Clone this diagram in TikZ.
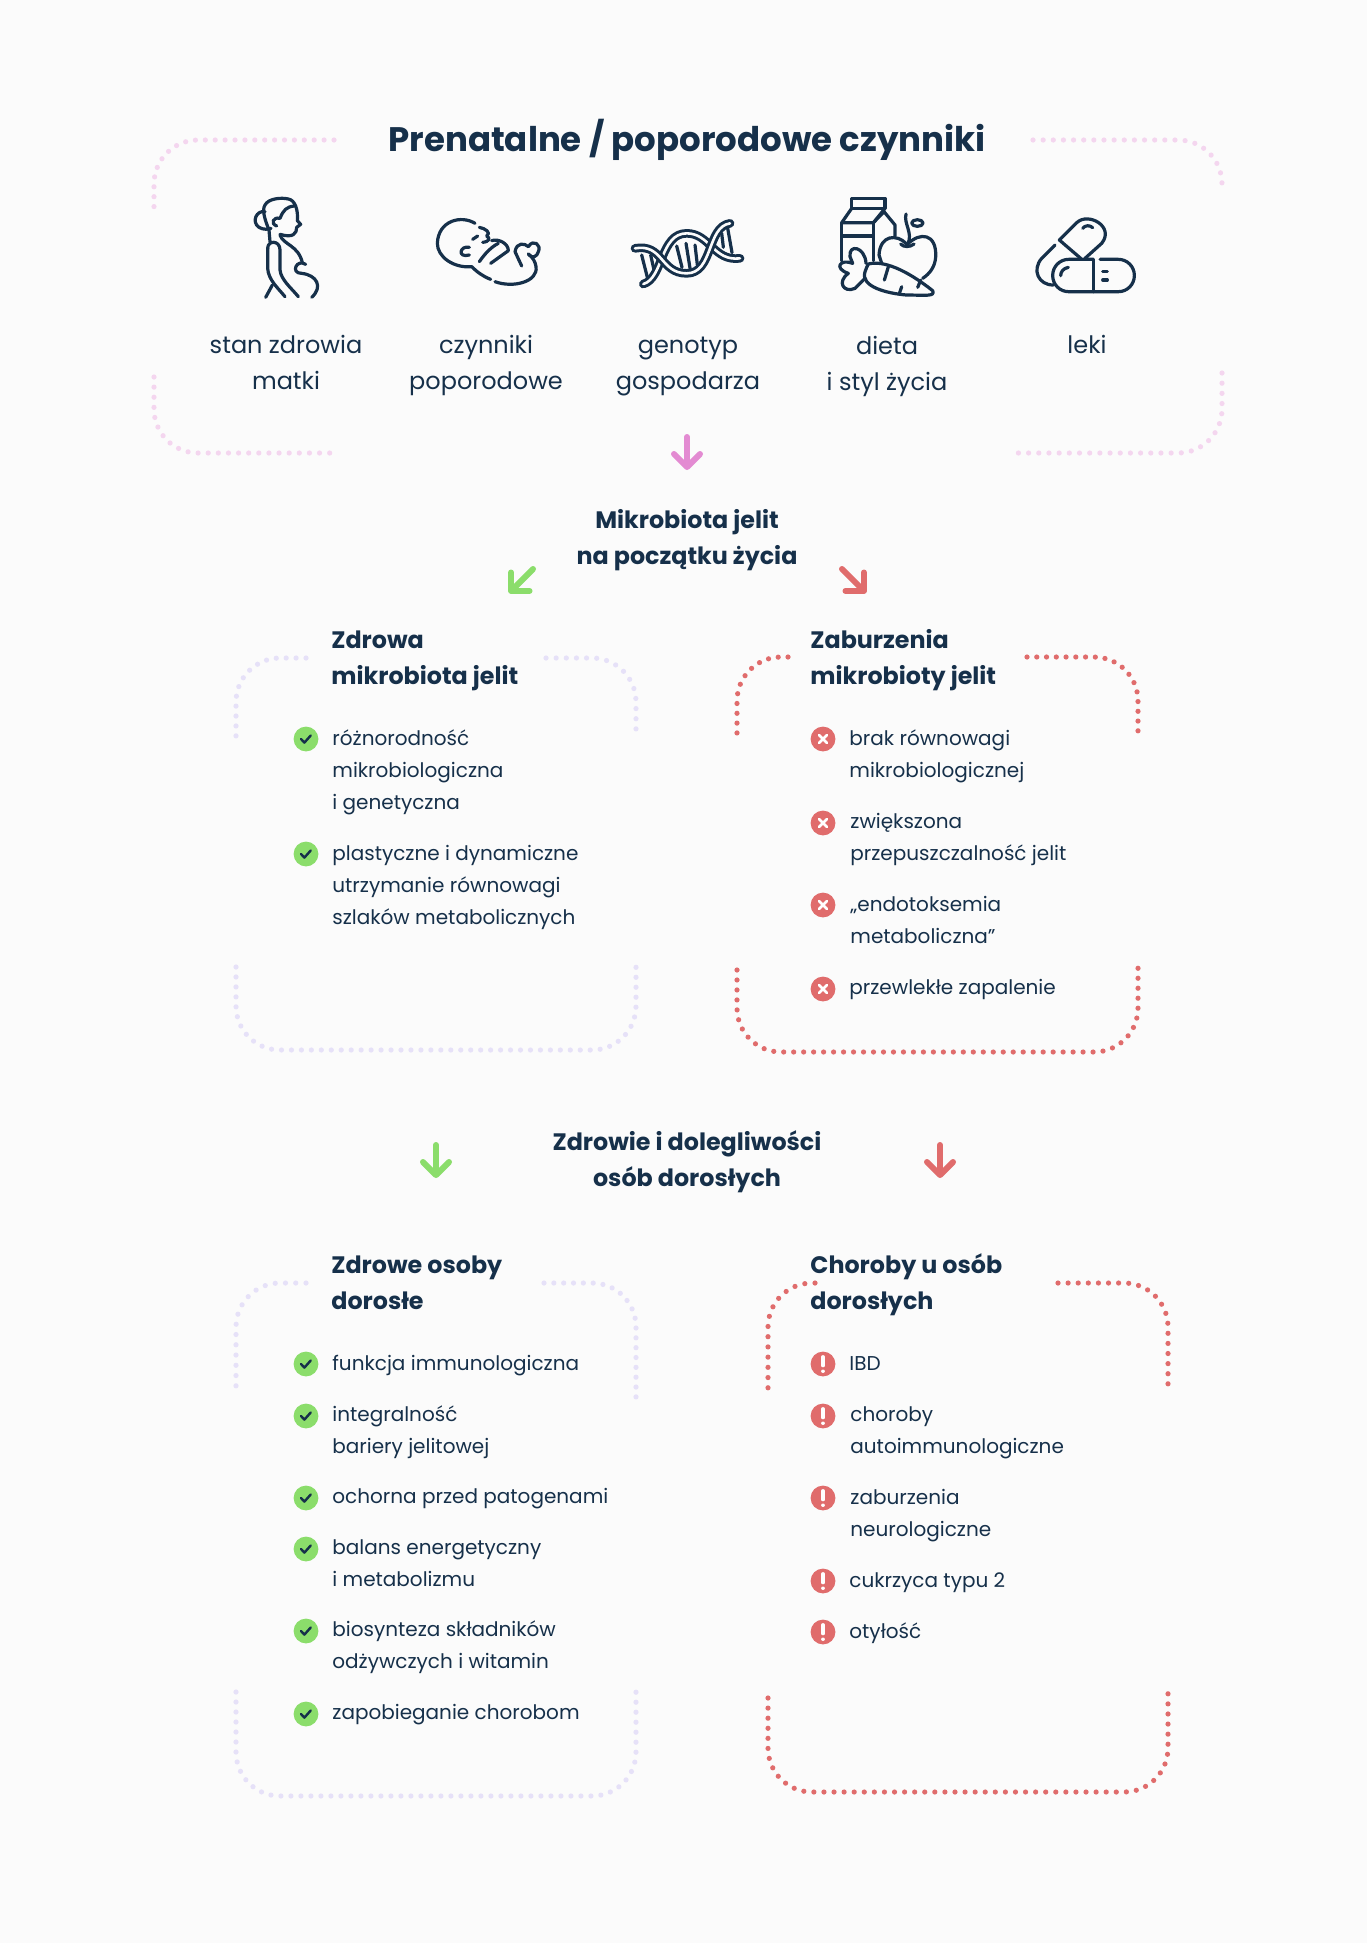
\documentclass[tikz,border=0pt]{standalone}
\usepackage{fontspec}
\setmainfont{Poppins}
\newfontfamily\popbold{Poppins Bold}
\usetikzlibrary{arrows.meta}
\definecolor{paper}{HTML}{FBFBFB}
\definecolor{ink}{HTML}{16304A}
\definecolor{softpink}{HTML}{F4D6EF}
\definecolor{softlilac}{HTML}{E6E1F8}
\definecolor{okgreen}{HTML}{8BDD6B}
\definecolor{badred}{HTML}{E06C6C}
\definecolor{arrowpink}{HTML}{E38BD2}
\tikzset{
	dotted line/.style={line width=2.6pt,line cap=round,rounded corners=22pt,dash pattern=on 0pt off #1pt},
	pinkdots/.style={dotted line=#1,draw=softpink},
	lilacdots/.style={dotted line=#1,draw=softlilac},
	reddots/.style={dotted line=#1,draw=badred},
	mainhead/.style={inner sep=0,text=ink,align=center,font=\fontsize{17}{18}\popbold},
	midhead/.style={inner sep=0,text=ink,align=center,font=\fontsize{11.9}{18}\popbold},
	boxhead/.style={inner sep=0,text=ink,align=left,anchor=base west,font=\fontsize{11.9}{18}\popbold},
	iconlabel/.style={inner sep=0,text=ink,align=center,anchor=base,font=\fontsize{12}{18}\selectfont},
	itemtext/.style={inner sep=0,text=ink,align=left,anchor=base west,font=\fontsize{10}{16}\selectfont},
	okdot/.style={circle,inner sep=0,minimum size=12.4pt,fill=okgreen,
		path picture={\draw[ink,line width=1.2pt,line cap=round,line join=round] ([shift={(-2.5pt,0pt)}]path picture bounding box.center) -- ++(1.7pt,-1.8pt) -- ++(3.2pt,3.6pt);}},
	baddot/.style={circle,inner sep=0,minimum size=12.4pt,fill=badred,
		path picture={\draw[white,line width=1.3pt,line cap=round] ([shift={(-2pt,-2pt)}]path picture bounding box.center) -- ++(4pt,4pt) ([shift={(-2pt,2pt)}]path picture bounding box.center) -- ++(4pt,-4pt);}},
	warndot/.style={circle,inner sep=0,minimum size=12.4pt,fill=badred,
		path picture={\draw[white,line width=1.7pt,line cap=round] ([shift={(0pt,3.6pt)}]path picture bounding box.center) -- ++(0,-4.4pt) ([shift={(0pt,-3.6pt)}]path picture bounding box.center) -- ++(0,-0.01pt);}},
	bigarrow/.style={line width=3pt,line cap=round,-{Straight Barb[round,length=6.5pt,width=13pt]}},
	icon/.style={draw=ink,line width=1.6pt,line cap=round,line join=round},
}
\begin{document}
\begin{tikzpicture}[x=.5pt,y=-.5pt]
	\fill[paper] (0,0) rectangle (1367,1943);
	\useasboundingbox (0,0) rectangle (1367,1943);

	%top frame
	\draw[pinkdots=4.95] (334,140) -| (154,207);
	\draw[pinkdots=5.06] (154,377) |- (330,453);
	\draw[pinkdots=5.07] (1033,140) -| (1222,183);
	\draw[pinkdots=5.09] (1222,373) |- (1018,453);

	\node[mainhead,anchor=base] (title) at (687,151) {Prenatalne / poporodowe czynniki};

	%icon labels
	\node[iconlabel] (lab1) at (286,389) {stan zdrowia\\matki};
	\node[iconlabel] (lab2) at (486,389) {czynniki\\poporodowe};
	\node[iconlabel] (lab3) at (688,389) {genotyp\\gospodarza};
	\node[iconlabel] (lab4) at (887,390) {dieta\\i styl życia};
	\node[iconlabel] (lab5) at (1087,353) {leki};

	%mother
	\begin{scope}[shift={(245,190)},x=.1667pt,y=-.1667pt]
		\draw[icon] (72,120) .. controls (60,90) and (50,60) .. (60,45) .. controls (70,25) and (110,22) .. (130,27) .. controls (150,30) and (160,60) .. (157,92) -- (167,103) -- (155,112) .. controls (155,130) and (145,145) .. (105,133);
		\draw[icon] (60,65) .. controls (35,60) and (18,95) .. (42,112) .. controls (55,120) and (70,118) .. (78,115);
		\draw[icon] (148,48) .. controls (125,50) and (115,60) .. (105,85) .. controls (85,80) and (75,100) .. (95,108);
		\draw[icon] (72,120) -- (75,155);
		\draw[icon] (68,175) .. controls (68,150) and (105,150) .. (105,180) -- (105,240) .. controls (108,270) and (140,295) .. (160,320);
		\draw[icon] (68,175) -- (68,235) .. controls (70,270) and (100,295) .. (120,320);
		\draw[icon] (82,285) -- (62,322);
		\draw[icon] (105,135) .. controls (115,165) and (160,165) .. (172,218);
		\draw[icon] (182,223) .. controls (155,205) and (135,250) .. (170,250) .. controls (215,255) and (235,290) .. (200,322);
	\end{scope}

	%baby
	\begin{scope}[shift={(430,210)},x=.1667pt,y=-.1667pt]
		\draw[icon] (135,40) .. controls (95,15) and (25,30) .. (22,100) .. controls (22,140) and (70,175) .. (125,170) .. controls (140,185) and (160,200) .. (182,208);
		\draw[icon] (195,215) .. controls (250,235) and (325,215) .. (318,170) .. controls (316,155) and (308,142) .. (295,132);
		\draw[icon] (148,52) .. controls (165,55) and (185,68) .. (170,78) .. controls (182,85) and (178,95) .. (158,97);
		\draw[icon] (185,92) .. controls (205,85) and (235,100) .. (235,122) -- (182,160);
		\draw[icon] (205,100) .. controls (185,110) and (165,130) .. (148,155);
		\draw[icon] (128,88) -- (143,78);
		\draw[icon] (118,112) .. controls (90,105) and (80,145) .. (118,135);
		\draw[icon] (275,168) -- (255,125) .. controls (260,95) and (285,100) .. (295,110) .. controls (310,85) and (335,105) .. (325,125) .. controls (322,140) and (305,148) .. (295,132);
	\end{scope}

	%dna
	\begin{scope}[shift={(610,190)},x=.1667pt,y=-.1667pt]
		\draw[icon] (200,168) -- (216,232) (228,160) -- (240,235) (255,165) -- (262,225);
		\draw[icon] (95,195) -- (112,262) (122,195) -- (132,240);
		\draw[icon] (335,130) -- (340,172) (353,115) -- (366,188);
		\draw[icon,line width=1.5pt,double=paper,double distance=1.3pt] (100,282) .. controls (160,265) and (150,130) .. (230,130) .. controls (300,130) and (310,215) .. (390,205);
		\draw[icon,line width=1.5pt,double=paper,double distance=1.3pt] (75,175) .. controls (160,160) and (150,250) .. (230,250) .. controls (310,250) and (290,110) .. (360,100);
	\end{scope}

	%food
	\begin{scope}[shift={(740,100)},x=.1667pt,y=-.1667pt]
		\draw[icon] (335,295) rectangle (435,325);
		\draw[icon] (335,325) -- (305,368) -- (400,368) -- (435,325);
		\draw[icon] (400,368) -- (432,335) -- (465,375) -- (465,408);
		\draw[icon] (305,368) -- (305,482);
		\draw[icon] (305,408) -- (400,408);
		\draw[icon] (400,368) -- (400,482);
		\draw[icon] (500,432) .. controls (470,400) and (420,405) .. (417,465) -- (425,490);
		\draw[icon] (503,432) .. controls (540,395) and (590,400) .. (587,470) .. controls (585,500) and (570,520) .. (548,535);
		\draw[icon] (498,342) .. controls (490,370) and (520,400) .. (503,432);
		\draw[icon] (532,369) ellipse (17 and 10);
		\draw[icon] (482,432) .. controls (490,442) and (510,442) .. (522,432);
		\draw[icon] (385,492) .. controls (430,480) and (500,510) .. (578,572) .. controls (585,590) and (560,585) .. (500,585) .. controls (440,580) and (360,560) .. (375,515) .. controls (378,505) and (382,498) .. (385,492);
		\draw[icon] (445,500) -- (433,540) (485,560) -- (478,580) (542,540) -- (533,562);
		\draw[icon] (378,490) .. controls (375,440) and (325,430) .. (330,470) -- (338,490) .. controls (300,475) and (280,505) .. (325,520) .. controls (290,545) and (310,580) .. (345,565) -- (375,535);
	\end{scope}

	%pills
	\begin{scope}[shift={(1030,210)},x=.1667pt,y=-.1667pt]
		\draw[icon] (152,145) -- (88,90) -- (140,38) .. controls (175,5) and (255,50) .. (215,100) -- (165,145);
		\draw[icon] (158,55) .. controls (165,45) and (180,45) .. (188,53);
		\draw[icon] (75,105) -- (35,145) .. controls (5,180) and (25,225) .. (70,225);
		\draw[icon,rounded corners=8pt] (190,148) -- (68,148) -- (68,245) -- (313,245) -- (313,148) -- (210,148);
		\draw[icon] (190,148) -- (190,245);
		\draw[icon] (92,197) .. controls (92,185) and (100,175) .. (115,172);
		\draw[icon] (218,185) -- (232,185) (218,210) -- (232,210);
	\end{scope}

	%arrows
	\coordinate (pinktop) at (687,437);
	\coordinate (pinkend) at (687,470);
	\draw[bigarrow,arrowpink] (pinktop) -- (pinkend);
	\coordinate (greentop) at (533,569);
	\coordinate (greenend) at (509,593);
	\draw[bigarrow,okgreen] (greentop) -- (greenend);
	\coordinate (redtop) at (842,569);
	\coordinate (redend) at (866,593);
	\draw[bigarrow,badred] (redtop) -- (redend);
	\coordinate (lowgreentop) at (436,1145);
	\coordinate (lowgreenend) at (436,1178);
	\draw[bigarrow,okgreen] (lowgreentop) -- (lowgreenend);
	\coordinate (lowredtop) at (940,1145);
	\coordinate (lowredend) at (940,1178);
	\draw[bigarrow,badred] (lowredtop) -- (lowredend);

	%middle heads
	\node[midhead,anchor=base] (micro) at (687,564) {Mikrobiota jelit\\na początku życia};
	\node[midhead,anchor=base] (health) at (687,1186) {Zdrowie i dolegliwości\\osób dorosłych};

	%upper left box
	\draw[lilacdots=4.96] (306,658) -| (236,736);
	\draw[lilacdots=5.07] (546,658) -| (636,739);
	\draw[lilacdots=4.98] (236,967) |- (636,1050) -- (636,967);
	\node[boxhead] (healthyhead) at (331,684) {Zdrowa\\mikrobiota jelit};
	\node[okdot] (a1) at (306,739) {};
	\node[itemtext] (t1) at (332,809) {różnorodność\\mikrobiologiczna\\i genetyczna};
	\node[okdot] (a2) at (306,854) {};
	\node[itemtext] (t2) at (332,924) {plastyczne i dynamiczne\\utrzymanie równowagi\\szlaków metabolicznych};

	%upper right box
	\draw[reddots=4.91] (788,657) -| (737,733);
	\draw[reddots=4.88] (1027,657) -| (1138,731);
	\draw[reddots=4.99] (737,970) |- (1138,1052) -- (1138,968);
	\node[boxhead] (brokenhead) at (810,684) {Zaburzenia\\mikrobioty jelit};
	\node[baddot] (b1) at (823,739) {};
	\node[itemtext] (u1) at (849,777) {brak równowagi\\mikrobiologicznej};
	\node[baddot] (b2) at (823,823) {};
	\node[itemtext] (u2) at (850,860) {zwiększona\\przepuszczalność jelit};
	\node[baddot] (b3) at (823,905) {};
	\node[itemtext] (u3) at (850,943) {„endotoksemia\\metaboliczna”};
	\node[baddot] (b4) at (823,989) {};
	\node[itemtext] (u4) at (849,994) {przewlekłe zapalenie};

	%lower left box
	\draw[lilacdots=5.13] (306,1283) -| (236,1386);
	\draw[lilacdots=4.92] (544,1283) -| (636,1397);
	\draw[lilacdots=5] (236,1692) |- (636,1796) -- (636,1692);
	\node[boxhead] (adultshead) at (331,1309) {Zdrowe osoby\\dorosłe};
	\node[okdot] (c1) at (306,1364) {};
	\node[itemtext] (v1) at (332,1370) {funkcja immunologiczna};
	\node[okdot] (c2) at (306,1416) {};
	\node[itemtext] (v2) at (332,1453) {integralność\\bariery jelitowej};
	\node[okdot] (c3) at (306,1498) {};
	\node[itemtext] (v3) at (332,1503) {ochorna przed patogenami};
	\node[okdot] (c4) at (306,1549) {};
	\node[itemtext] (v4) at (332,1586) {balans energetyczny\\i metabolizmu};
	\node[okdot] (c5) at (306,1631) {};
	\node[itemtext] (v5) at (332,1668) {biosynteza składników\\odżywczych i witamin};
	\node[okdot] (c6) at (306,1714) {};
	\node[itemtext] (v6) at (332,1719) {zapobieganie chorobom};

	%lower right box
	\draw[reddots=5.11] (815,1283) -| (768,1388);
	\draw[reddots=5.05] (1058,1283) -| (1168,1384);
	\draw[reddots=5.04] (768,1698) |- (1168,1792) -- (1168,1693);
	\node[boxhead] (sickhead) at (810,1309) {Choroby u osób\\dorosłych};
	\node[warndot] (d1) at (823,1364) {};
	\node[itemtext] (w1) at (849,1370) {IBD};
	\node[warndot] (d2) at (823,1416) {};
	\node[itemtext] (w2) at (850,1453) {choroby\\autoimmunologiczne};
	\node[warndot] (d3) at (823,1498) {};
	\node[itemtext] (w3) at (850,1536) {zaburzenia\\neurologiczne};
	\node[warndot] (d4) at (823,1581) {};
	\node[itemtext] (w4) at (849,1587) {cukrzyca typu 2};
	\node[warndot] (d5) at (823,1632) {};
	\node[itemtext] (w5) at (849,1638) {otyłość};
\end{tikzpicture}
\end{document}
